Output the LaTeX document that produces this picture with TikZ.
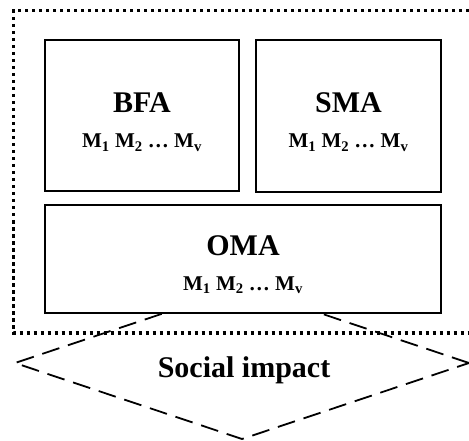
\documentclass[tikz,border=0pt]{standalone}
\usepackage{fontspec}
\setmainfont{Liberation Serif}
\usetikzlibrary{shapes.geometric}
\begin{document}
\begin{tikzpicture}[x=1pt,y=-1pt,
  box/.style={draw, line width=2.2pt, fill=white, inner sep=0pt, outer sep=0pt},
  title/.style={font=\fontsize{30}{32}\selectfont\bfseries, anchor=base, inner sep=0pt},
  mline/.style={font=\fontsize{21}{23}\selectfont\bfseries, anchor=base, inner sep=0pt},
  frameline/.style={line width=3.2pt, dash pattern=on 3.5pt off 3.5pt},
  impactshape/.style={draw, shape=diamond, line width=1.8pt, dash pattern=on 18pt off 9pt, minimum width=454pt, minimum height=152pt, inner sep=0pt, outer sep=0pt}]
\useasboundingbox (0,0) rectangle (469,441);
\clip (0,0) rectangle (469,441);
\draw[frameline] (490,10.5) -- (13.5,10.5) -- (13.5,333) -- (490,333);
\node[impactshape] (impact) at (242,363) {};
\node[box, minimum width=194pt, minimum height=151pt] (bfa) at (142,115.5) {};
\node[box, minimum width=185pt, minimum height=152pt] (sma) at (348.5,116) {};
\node[box, minimum width=396pt, minimum height=108pt] (oma) at (243,259) {};
\node[title] (bfat) at (142,113) {BFA};
\node[mline] (bfam) at (142,148) {M\textsubscript{1} M\textsubscript{2} \ldots\ M\textsubscript{v}};
\node[title] (smat) at (348.5,113) {SMA};
\node[mline] (smam) at (348.5,148) {M\textsubscript{1} M\textsubscript{2} \ldots\ M\textsubscript{v}};
\node[title] (omat) at (243,255) {OMA};
\node[mline] (omam) at (243,290) {M\textsubscript{1} M\textsubscript{2} \ldots\ M\textsubscript{v}};
\node[font=\fontsize{30}{32}\selectfont\bfseries, anchor=base, inner sep=0pt] (impactt) at (244,377) {Social impact};
\end{tikzpicture}
\end{document}
